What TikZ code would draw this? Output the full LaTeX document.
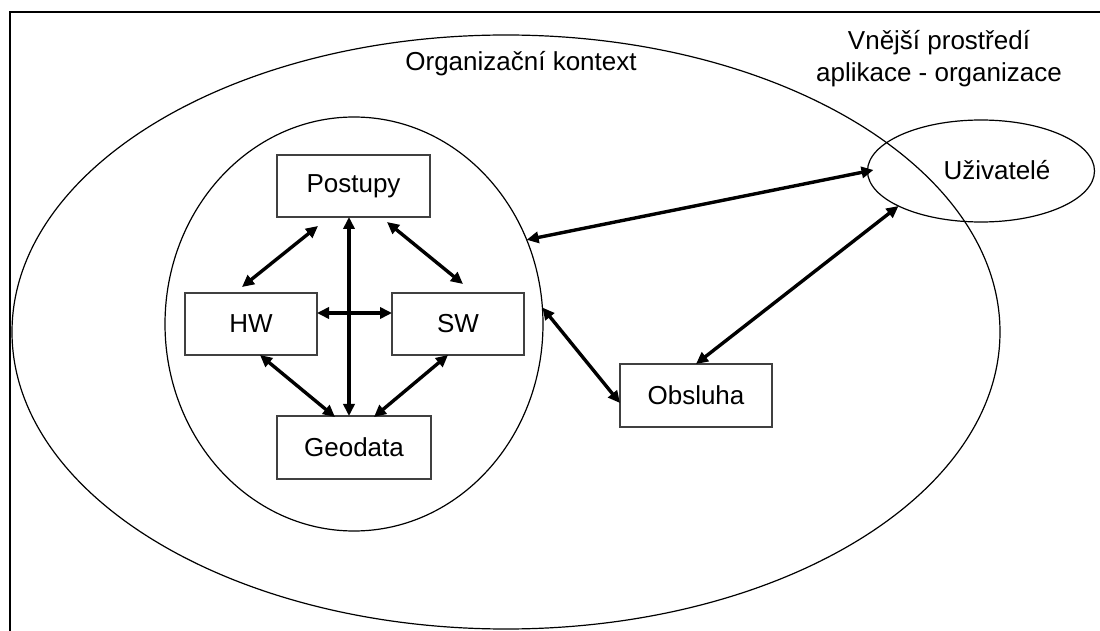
\documentclass[tikz,border=0pt]{standalone}
\usepackage{fontspec}
\setmainfont{Liberation Sans}
\usetikzlibrary{shapes.geometric,arrows.meta,calc}
\tikzset{
  box/.style={draw=black!75, line width=0.8pt, rectangle, inner sep=0pt, outer sep=0pt, minimum height=31pt, font=\fontsize{13}{16}\selectfont},
  oval/.style={draw=black, line width=0.6pt, ellipse, inner sep=0pt, outer sep=0pt},
  link/.style={line width=1.7pt, {Triangle[length=6pt,width=5.6pt]}-{Triangle[length=6pt,width=5.6pt]}},
  txt/.style={font=\fontsize{13}{16}\selectfont, align=center, inner sep=0pt}
}
\begin{document}
\begin{tikzpicture}[x=0.5pt,y=-0.5pt]
\useasboundingbox (0,0) rectangle (1100,631);
% frame
\draw[line width=1pt] (10,631) -- (10,12) -- (1100,12);
% ellipses
\node[oval, minimum width=494pt, minimum height=297pt] (org) at (506,332) {};
\node[oval, minimum width=189pt, minimum height=207pt] (inner) at (354,324) {};
\node[oval, minimum width=113.5pt, minimum height=51pt] (uz) at (981,171) {};
% texts
\node[txt] (orgtxt) at (521,64) {Organizační kontext};
\node[txt] (ext) at (939,59) {Vnější prostředí\\aplikace - organizace};
\node[txt] (uztxt) at (997,170) {Uživatelé};
% boxes
\node[box, minimum width=76.5pt] (post) at (353.5,186) {Postupy};
\node[box, minimum width=66pt] (hw) at (251,324) {HW};
\node[box, minimum width=66pt] (sw) at (458,324) {SW};
\node[box, minimum width=77pt, minimum height=31.5pt] (geo) at (354,447.5) {Geodata};
\node[box, minimum width=76pt, minimum height=31.5pt] (obs) at (696,395.5) {Obsluha};
% connectors
\draw[link] ($(post.south)+(-35.5,9)$) -- ($(hw.north)+(-9,-6)$);
\draw[link] ($(post.south)+(33.5,5)$) -- ($(sw.north)+(5,-9)$);
\draw[link] ($(post.south)+(-4.5,0)$) -- ($(geo.north)+(-5,0)$);
\draw[link] ($(hw.east)+(0,-11)$) -- ($(sw.west)+(0,-11)$);
\draw[link] ($(hw.south)+(9,0)$) -- ($(geo.north)+(-19,1)$);
\draw[link] ($(sw.south)+(-10,0)$) -- ($(geo.north)+(20,1)$);
\draw[link] (inner.26) -- ($(uz.west)+(6,-1)$);
\draw[link] (inner.5) -- ($(obs.west)+(0,7.5)$);
\draw[link] (uz.203) -- (obs.north);
\end{tikzpicture}
\end{document}
